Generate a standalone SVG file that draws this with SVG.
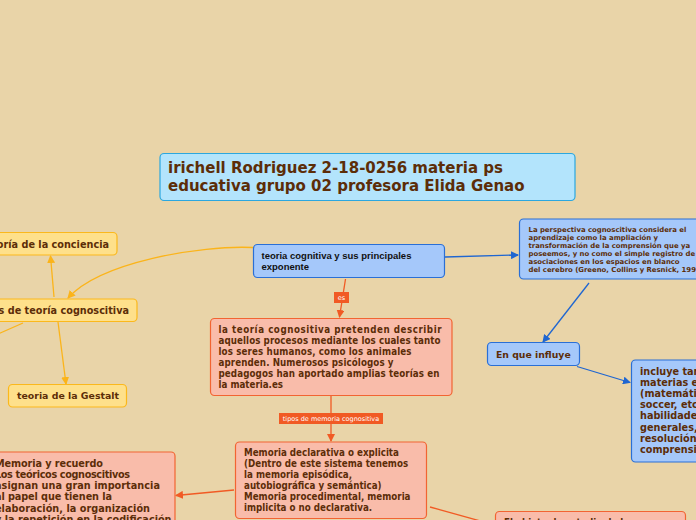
<svg xmlns="http://www.w3.org/2000/svg" width="696" height="520" viewBox="0 0 696 520">
<defs>
<style>
.bg{fill:#e9d4a8}
.t{font-family:"DejaVu Sans",Verdana,sans-serif;font-weight:bold;fill:#5c2d08}
.b{font-size:9.7px}
.c{font-family:"DejaVu Sans Condensed","DejaVu Sans",Verdana,sans-serif;font-stretch:condensed;font-weight:bold;fill:#5c2d08;font-size:9.7px}
.yel{fill:#fee08b;stroke:#fbb81c;stroke-width:1.2}
.blu{fill:#a5c8fa;stroke:#2a6fd6;stroke-width:1.2}
.red{fill:#f9bcaa;stroke:#f26432;stroke-width:1.2}
.ttl{fill:#b3e4fc;stroke:#2ba7df;stroke-width:1.2}
.cy{fill:none;stroke:#fbb41a;stroke-width:1.3}
.cb{fill:none;stroke:#1f66d1;stroke-width:1.3}
.cr{fill:none;stroke:#f15a24;stroke-width:1.3}
.lbl{fill:#f15a24}
.lt{font-family:"DejaVu Sans",Verdana,sans-serif;fill:#ffffff;font-size:6.5px}
</style>
<marker id="ay" markerWidth="8" markerHeight="8" refX="7" refY="4" orient="auto" markerUnits="userSpaceOnUse"><path d="M0,0 L8,4 L0,8 z" fill="#fbb41a"/></marker>
<marker id="ab" markerWidth="8" markerHeight="8" refX="7" refY="4" orient="auto" markerUnits="userSpaceOnUse"><path d="M0,0 L8,4 L0,8 z" fill="#1f66d1"/></marker>
<marker id="ar" markerWidth="8" markerHeight="8" refX="7" refY="4" orient="auto" markerUnits="userSpaceOnUse"><path d="M0,0 L8,4 L0,8 z" fill="#f15a24"/></marker>
</defs>
<rect class="bg" x="0" y="0" width="696" height="520"/>

<g id="connectors">
<path class="cy" d="M253,247.5 C200,245 100,262 68,298" marker-end="url(#ay)"/>
<path class="cy" d="M54,297 L50.5,256" marker-end="url(#ay)"/>
<path class="cy" d="M58,322 L66,384" marker-end="url(#ay)"/>
<path class="cy" d="M23,323 L-2,334"/>
<path class="cb" d="M445,257 L518,255" marker-end="url(#ab)"/>
<path class="cb" d="M589,283 L543,342" marker-end="url(#ab)"/>
<path class="cb" d="M577,366.5 L630,382.5" marker-end="url(#ab)"/>
<path class="cr" d="M345.5,279 L339.5,317" marker-end="url(#ar)"/>
<path class="cr" d="M331,396 L331,441" marker-end="url(#ar)"/>
<path class="cr" d="M234,490 L176,495.5" marker-end="url(#ar)"/>
<path class="cr" d="M430,507 L484,522"/>
<rect class="lbl" x="334" y="292" width="15" height="11"/>
<text class="lt" x="341.5" y="300" text-anchor="middle">es</text>
<rect class="lbl" x="279" y="413" width="104" height="11"/>
<text class="lt" x="331" y="421" text-anchor="middle">tipos de memoria cognositiva</text>
</g>

<g id="title">
<rect class="ttl" x="160" y="153.5" width="415" height="47" rx="4"/>
<text class="t" font-size="15" x="168" y="173">irichell Rodriguez 2-18-0256 materia ps</text>
<text class="t" font-size="15" x="168" y="191">educativa grupo 02 profesora Elida Genao</text>
</g>

<g id="teoria-cognitiva">
<rect class="blu" x="253.5" y="244.5" width="191" height="33" rx="4"/>
<text font-family="'Liberation Sans',Arial,sans-serif" font-weight="bold" font-size="9.5" fill="#111" x="261.5" y="259">teoria cognitiva y sus principales</text>
<text font-family="'Liberation Sans',Arial,sans-serif" font-weight="bold" font-size="9.5" fill="#111" x="261.5" y="270">exponente</text>
</g>

<g id="perspectiva">
<rect class="blu" x="519.5" y="219" width="190" height="60" rx="4"/>
<g class="t" font-size="6.9">
<text x="528.5" y="232">La perspectiva cognoscitiva considera el</text>
<text x="528.5" y="240">aprendizaje como la ampliación y</text>
<text x="528.5" y="248">transformación de la comprensión que ya</text>
<text x="528.5" y="256">poseemos, y no como el simple registro de</text>
<text x="528.5" y="264">asociaciones en los espacios en blanco</text>
<text x="528.5" y="272">del cerebro (Greeno, Collins y Resnick, 1996)</text>
</g>
</g>

<g id="en-que-influye">
<rect class="blu" x="487.5" y="342.5" width="92" height="23" rx="4"/>
<text class="t" font-size="9.3" x="496" y="357.5">En que influye</text>
</g>

<g id="incluye">
<rect class="blu" x="631.5" y="360" width="90" height="102" rx="4"/>
<g class="t b">
<text x="640" y="374.5">incluye tanto</text>
<text x="640" y="385.7">materias específicas</text>
<text x="640" y="396.9">(matemáticas,</text>
<text x="640" y="408.1">soccer, etc.)</text>
<text x="640" y="419.3">habilidades</text>
<text x="640" y="430.5">generales, como la</text>
<text x="640" y="441.7">resolución de</text>
<text x="640" y="452.9">comprensión</text>
</g>
</g>

<g id="teoria-conciencia">
<rect class="yel" x="-10" y="232.5" width="127" height="22.5" rx="4"/>
<text class="t b" x="109" y="247.5" text-anchor="end">teoría de la conciencia</text>
</g>

<g id="tipos-teoria">
<rect class="yel" x="-10" y="299" width="147" height="22.5" rx="4"/>
<text class="t b" x="129" y="313.5" text-anchor="end">Tipos de teoría cognoscitiva</text>
</g>

<g id="gestalt">
<rect class="yel" x="8.5" y="384.5" width="118" height="22.5" rx="4"/>
<text class="t" font-size="9.4" x="17" y="399">teoria de la Gestalt</text>
</g>

<g id="teoria-cognositiva-desc">
<rect class="red" x="210.5" y="318.5" width="241.5" height="77" rx="4"/>
<g class="c">
<text x="218.5" y="333.3" textLength="223">la teoría cognositiva pretenden describir</text>
<text x="218.5" y="344.2" textLength="222">aquellos procesos mediante los cuales tanto</text>
<text x="218.5" y="355.1" textLength="193">los seres humanos, como los animales</text>
<text x="218.5" y="366" textLength="175">aprenden. Numerosos psicólogos y</text>
<text x="218.5" y="376.9" textLength="221">pedagogos han aportado amplias teorías en</text>
<text x="218.5" y="387.8">la materia.es</text>
</g>
</g>

<g id="memoria-declarativa">
<rect class="red" x="235.5" y="442" width="191" height="76.5" rx="4"/>
<g class="c">
<text x="244" y="456">Memoria declarativa o explicita</text>
<text x="244" y="467">(Dentro de este sistema tenemos</text>
<text x="244" y="478">la memoria episódica,</text>
<text x="244" y="489">autobiográfica y semántica)</text>
<text x="244" y="500">Memoria procedimental, memoria</text>
<text x="244" y="511">implicita o no declarativa.</text>
</g>
</g>

<g id="memoria-recuerdo">
<rect class="red" x="-10" y="452" width="185" height="80" rx="4"/>
<g class="t b">
<text x="-5" y="467" textLength="108">Memoria y recuerdo</text>
<text x="-5" y="478" textLength="135">Los teóricos cognoscitivos</text>
<text x="-5" y="489" textLength="165">asignan una gran importancia</text>
<text x="-5" y="500" textLength="117">al papel que tienen la</text>
<text x="-5" y="511.5" textLength="155">elaboración, la organización</text>
<text x="-5" y="523">y la repetición en la codificación</text>
</g>
</g>

<g id="objeto">
<rect class="red" x="495.5" y="511.5" width="190" height="40" rx="4"/>
<text class="c" x="504" y="526">El objeto de estudio de la</text>
</g>
</svg>
